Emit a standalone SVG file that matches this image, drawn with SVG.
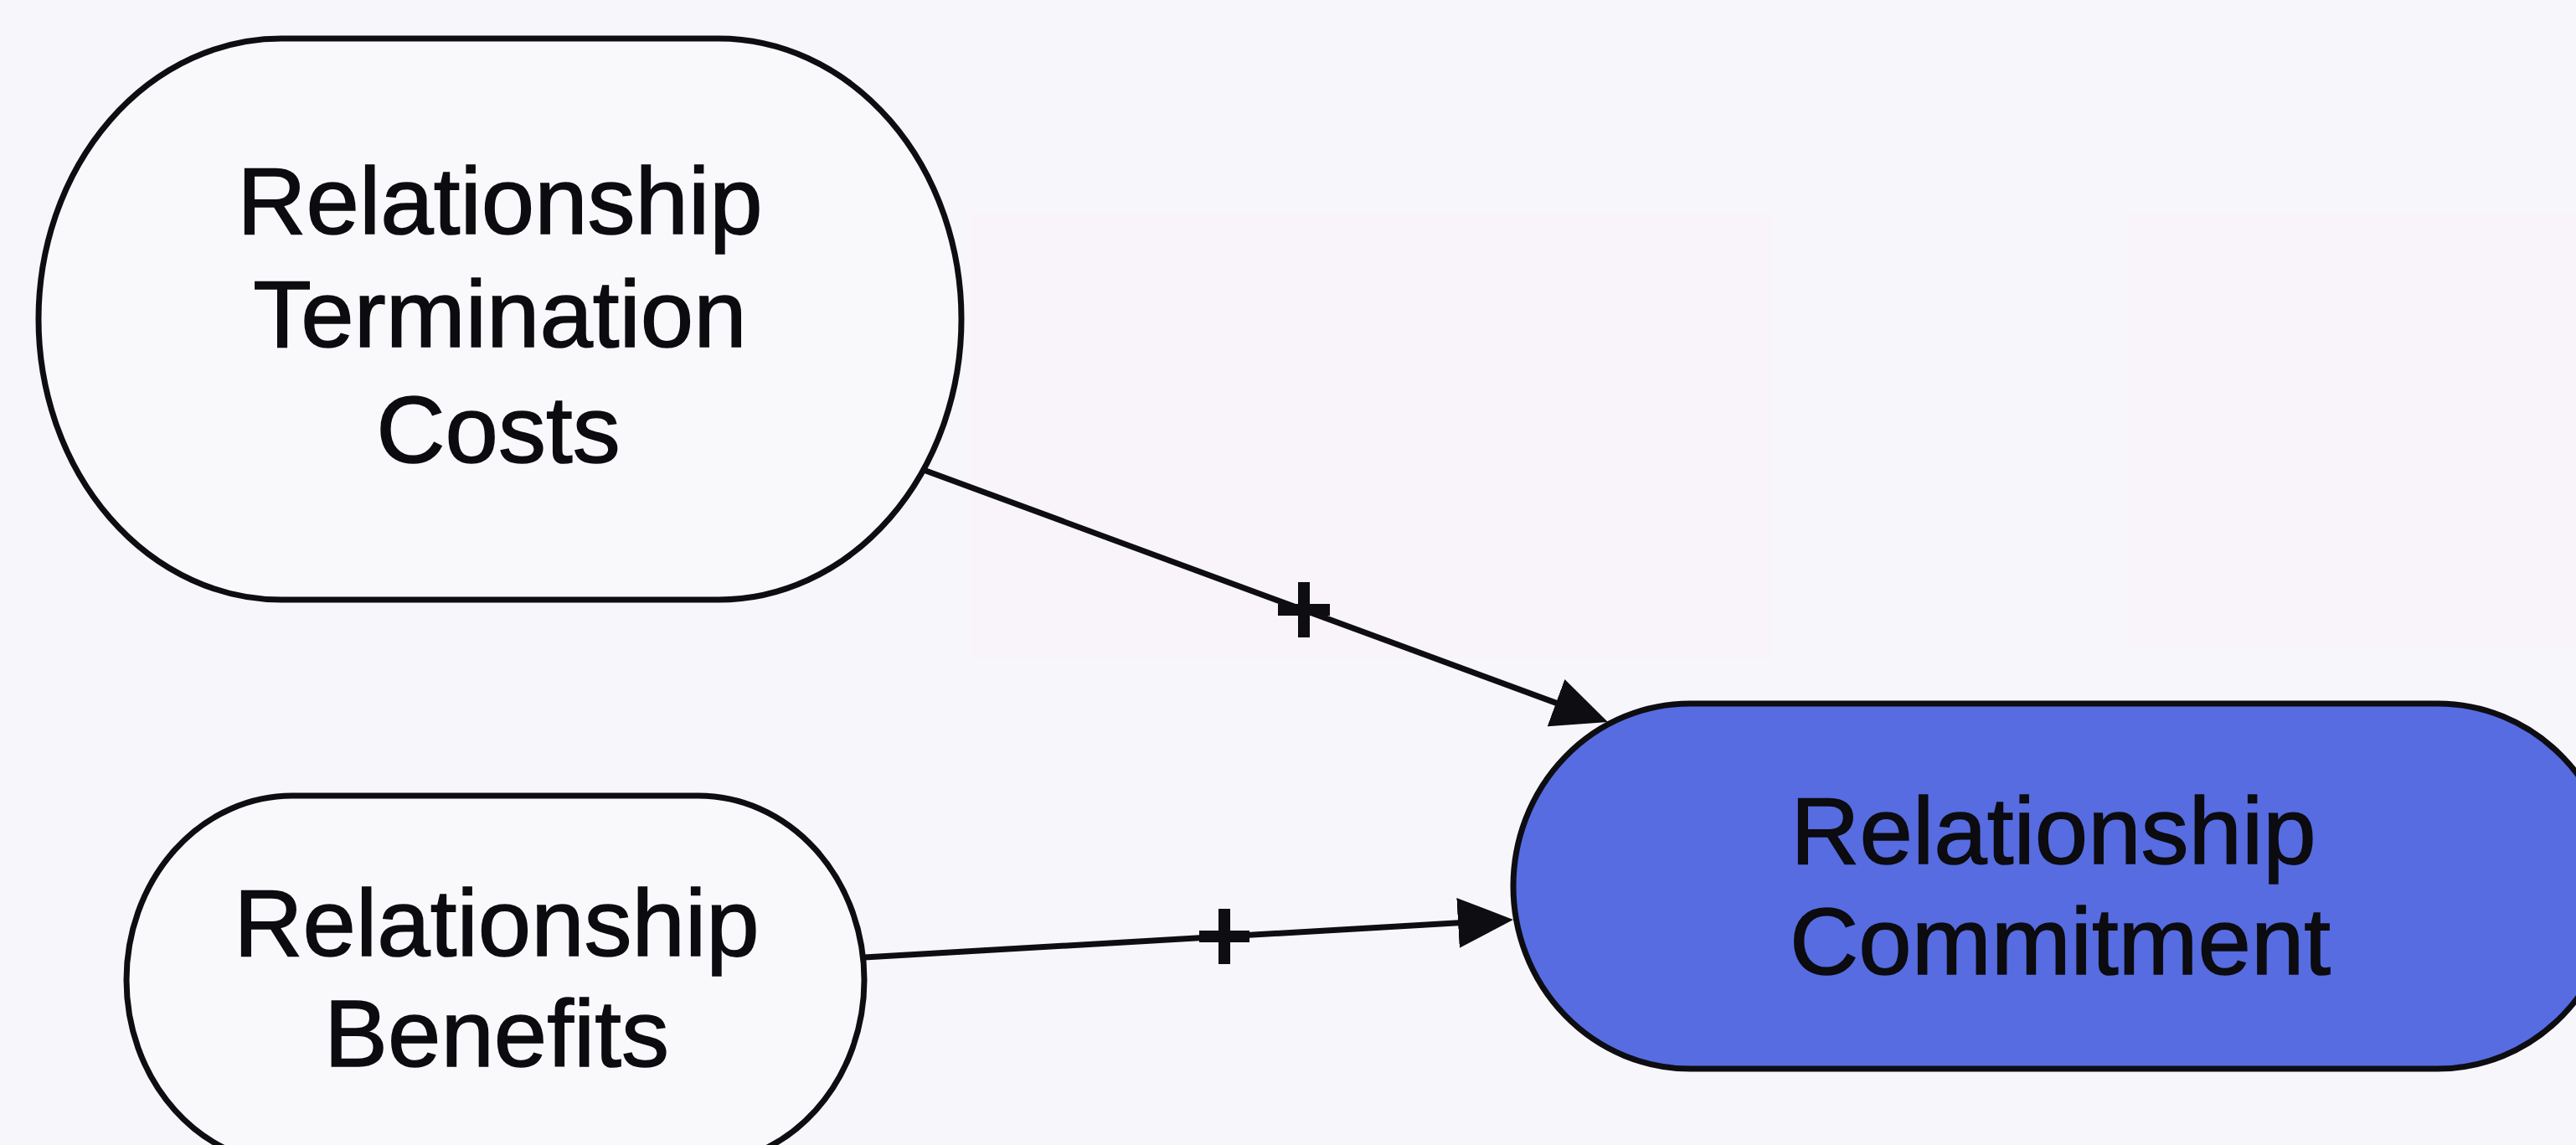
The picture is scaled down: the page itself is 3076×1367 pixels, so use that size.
<svg xmlns="http://www.w3.org/2000/svg" width="3076" height="1367" viewBox="0 0 3076 1367">
  <defs>
    <style>
      .node { stroke: #0d0d12; stroke-width: 7; }
      .plain { fill: #f9f9fc; }
      .target { fill: #566ce0; }
      .lbl { font-family: "Liberation Sans", Arial, sans-serif; font-size: 114px; fill: #0b0b10; stroke: #0b0b10; stroke-width: 1.5; text-anchor: middle; }
      .edge { stroke: #0d0d12; stroke-width: 7; fill: none; marker-end: url(#arrow); }
      .plus { stroke: #0d0d12; stroke-width: 14; stroke-linecap: butt; }
    </style>
    <marker id="arrow" markerUnits="userSpaceOnUse" markerWidth="70" markerHeight="62" refX="46" refY="30" orient="auto">
      <path d="M0,0 L66,30 L0,60 Z" fill="#0d0d12"/>
    </marker>
  </defs>

  <rect x="0" y="0" width="3076" height="1367" fill="#f7f7fb"/>
  <g id="background-ghosts" opacity="0.5">
    <rect x="1158" y="255" width="960" height="530" fill="#fbf2f8"/>
    <rect x="2541" y="255" width="535" height="520" fill="#fbf2f8"/>
  </g>

  <g id="connectors">
    <line class="edge" x1="1100" y1="560" x2="1901.2" y2="855.1"/>
    <line class="edge" x1="1032" y1="1143" x2="1787" y2="1099.2"/>
    <g id="plus-1">
      <line class="plus" x1="1557" y1="695" x2="1557" y2="761"/>
      <line class="plus" x1="1526" y1="728" x2="1588" y2="728"/>
    </g>
    <g id="plus-2">
      <line class="plus" x1="1462" y1="1085" x2="1462" y2="1151"/>
      <line class="plus" x1="1432" y1="1118" x2="1492" y2="1118"/>
    </g>
  </g>

  <g id="node-termination-costs">
    <rect class="node plain" x="46" y="46" width="1102" height="670" rx="290" ry="335"/>
    <text class="lbl" x="597" y="279">Relationship</text>
    <text class="lbl" x="597" y="414">Termination</text>
    <text class="lbl" x="595" y="552">Costs</text>
  </g>

  <g id="node-benefits">
    <rect class="node plain" x="151" y="950" width="881" height="440" rx="198" ry="220"/>
    <text class="lbl" x="593" y="1141">Relationship</text>
    <text class="lbl" x="593" y="1273">Benefits</text>
  </g>

  <g id="node-commitment">
    <rect class="node target" x="1807" y="840" width="1315" height="436" rx="211" ry="218"/>
    <text class="lbl" x="2452" y="1031">Relationship</text>
    <text class="lbl" x="2460" y="1163">Commitment</text>
  </g>
</svg>
